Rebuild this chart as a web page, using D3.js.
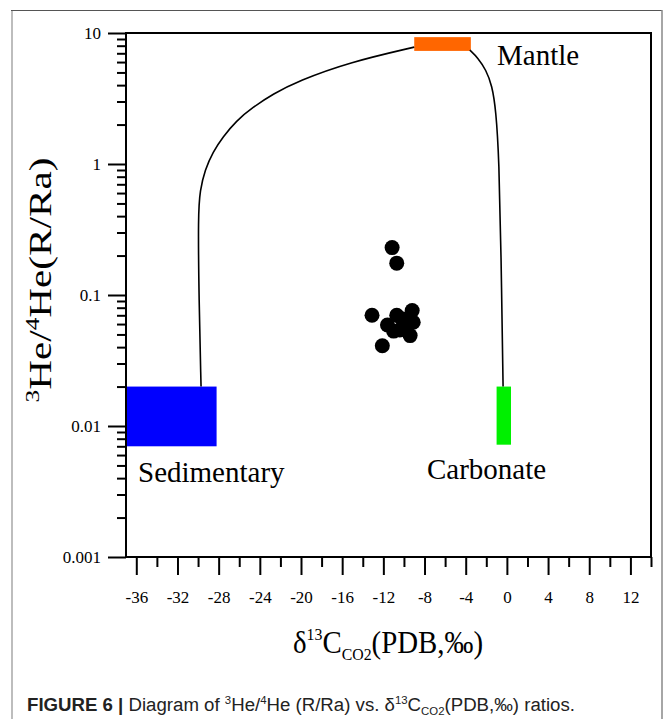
<!DOCTYPE html>
<html>
<head>
<meta charset="utf-8">
<script src="https://cdn.jsdelivr.net/npm/d3@7"></script>
<style>
    body { margin: 0; background: #fff; }
    svg { display: block; }
</style>
</head>
<body>
<div id="chart"></div>
<script>
// samples: δ13C CO2 vs 3He/4He (R/Ra)
const sampleX = [-11.15, -10.7, -13.1, -12.1, -11.6, -10.7, -9.2, -9.1, -9.4, -10.4, -11.0, -9.9, -10.2];
const sampleY = [0.23, 0.175, 0.07, 0.041, 0.059, 0.07, 0.076, 0.062, 0.049, 0.054, 0.053, 0.061, 0.066];

// end-member boxes [x0, x1, y0, y1]
const endNames = ["Sedimentary", "Carbonate", "Mantle"];
const endBoxes = [[-37, -28.2, 0.007, 0.02], [-1, 0.4, 0.0072, 0.02], [-9, -3.5, 7.3, 9.3]];
const endColors = ["#0000ff", "#00f000", "#ff6600"];

// mixing curves
const leftCurve = [[-29.71, 0.02], [-29.91, 0.092], [-30.0, 0.41], [-29.81, 0.63], [-29.33, 0.9], [-28.55, 1.24],
    [-27.58, 1.61], [-26.31, 2.13], [-24.66, 2.72], [-22.72, 3.42], [-20.29, 4.3], [-15.24, 6.0], [-9.0, 7.8]];
const rightCurve = [[-3.6, 7.4], [-2.8, 6.45], [-2.03, 5.22], [-1.45, 4.0], [-1.06, 2.58], [-0.76, 1.07],
    [-0.57, 0.22], [-0.37, 0.02]];

const xMajor = d3.range(-36, 13, 4);
const xMinor = d3.range(-34, 15, 4);
const yMajor = [0.001, 0.01, 0.1, 1, 10];
const yLabels = ["0.001", "0.01", "0.1", "1", "10"];

const W = 665, H = 719;
const serif = "'Liberation Serif', 'Times New Roman', serif";

const svg = d3.select("#chart").append("svg")
    .attr("width", W)
    .attr("height", H);

svg.append("rect").attr("width", W).attr("height", H).attr("fill", "#fff");

// outer figure frame
svg.append("line").attr("x1", 12).attr("x2", 12).attr("y1", 10).attr("y2", H)
    .attr("stroke", "#bdbdbd").attr("stroke-width", 2);
svg.append("line").attr("x1", 11).attr("x2", 662).attr("y1", 10.5).attr("y2", 10.5)
    .attr("stroke", "#555").attr("stroke-width", 1.2);
svg.append("line").attr("x1", 662).attr("x2", 662).attr("y1", 10).attr("y2", H)
    .attr("stroke", "#888").attr("stroke-width", 1.5);

const x = d3.scaleLinear().domain([-37, 14]).range([126, 651]);
const y = d3.scaleLog().domain([0.001, 10]).range([557, 33]);

// =============================
// AXES (minor and major in separate groups)
// =============================
const yMinor = [];
yMajor.slice(0, -1).forEach(d => {
    for (let k = 2; k <= 9; k++) yMinor.push(d * k);
});

const xb = `translate(0,${y.range()[0]})`;
const yl = `translate(${x.range()[0]},0)`;

svg.append("g").attr("transform", xb)
    .call(d3.axisBottom(x).tickValues(xMinor).tickSize(10).tickFormat(""));
const gx = svg.append("g").attr("transform", xb)
    .call(d3.axisBottom(x).tickValues(xMajor).tickSize(18).tickPadding(16).tickFormat(d => String(d)));

svg.append("g").attr("transform", yl)
    .call(d3.axisLeft(y).tickValues(yMinor).tickSize(9).tickFormat(""));
const gy = svg.append("g").attr("transform", yl)
    .call(d3.axisLeft(y).tickValues(yMajor).tickSize(18).tickPadding(7)
        .tickFormat((d, i) => yLabels[i]));

svg.selectAll(".domain").remove();
svg.selectAll(".tick line").attr("stroke", "#000").attr("stroke-width", 2);
svg.selectAll(".tick text")
    .style("font-family", serif)
    .style("font-size", "17px")
    .attr("fill", "#000");

// =============================
// END-MEMBER BOXES
// =============================
svg.append("g").selectAll("rect")
    .data(endBoxes)
    .join("rect")
    .attr("x", d => x(d[0]))
    .attr("width", d => x(d[1]) - x(d[0]))
    .attr("y", d => y(d[3]))
    .attr("height", d => y(d[2]) - y(d[3]))
    .attr("fill", (d, i) => endColors[i]);

// =============================
// MIXING CURVES
// =============================
const line = d3.line()
    .x(d => x(d[0]))
    .y(d => y(d[1]))
    .curve(d3.curveBasis);

svg.append("g").selectAll("path")
    .data([leftCurve, rightCurve])
    .join("path")
    .attr("d", line)
    .attr("fill", "none")
    .attr("stroke", "#000")
    .attr("stroke-width", 1.6);

// plot frame
svg.append("rect")
    .attr("x", x.range()[0]).attr("y", y.range()[1])
    .attr("width", x.range()[1] - x.range()[0])
    .attr("height", y.range()[0] - y.range()[1])
    .attr("fill", "none")
    .attr("stroke", "#000")
    .attr("stroke-width", 2);

// =============================
// SAMPLES
// =============================
svg.append("g").selectAll("circle")
    .data(sampleX.map((v, i) => [v, sampleY[i]]))
    .join("circle")
    .attr("cx", d => x(d[0]))
    .attr("cy", d => y(d[1]))
    .attr("r", 7.5)
    .attr("fill", "#000");

// =============================
// LABELS
// =============================
const labelPos = [[138, 482], [427, 479], [497, 65]];
svg.append("g").selectAll("text")
    .data(endNames)
    .join("text")
    .attr("x", (d, i) => labelPos[i][0])
    .attr("y", (d, i) => labelPos[i][1])
    .attr("font-family", serif)
    .attr("font-size", 29)
    .attr("fill", "#000")
    .text(d => d);

// y title
const yt = svg.append("text")
    .attr("transform", "translate(51,280) rotate(-90)")
    .attr("text-anchor", "middle")
    .attr("font-family", serif)
    .attr("font-size", 31)
    .attr("textLength", 245)
    .attr("lengthAdjust", "spacingAndGlyphs")
    .attr("fill", "#000");
yt.append("tspan").attr("font-size", 19).attr("dy", -12).text("3");
yt.append("tspan").attr("dy", 12).text("He/");
yt.append("tspan").attr("font-size", 19).attr("dy", -12).text("4");
yt.append("tspan").attr("dy", 12).text("He(R/Ra)");

// x title
const xt = svg.append("text")
    .attr("x", 293).attr("y", 653)
    .attr("font-family", serif)
    .attr("font-size", 31)
    .attr("textLength", 190)
    .attr("lengthAdjust", "spacingAndGlyphs")
    .attr("fill", "#000");
xt.append("tspan").text("δ");
xt.append("tspan").attr("font-size", 17).attr("dy", -13).text("13");
xt.append("tspan").attr("dy", 13).text("C");
xt.append("tspan").attr("font-size", 17).attr("dy", 7).text("CO2");
xt.append("tspan").attr("dy", -7).text("(PDB,‰)");

// caption
const cap = svg.append("text")
    .attr("x", 27).attr("y", 711)
    .attr("font-family", "'Liberation Sans Narrow', 'Liberation Sans', Arial, sans-serif")
    .attr("font-size", 18)
    .attr("fill", "#222")
    .attr("textLength", 548)
    .attr("lengthAdjust", "spacingAndGlyphs");
cap.append("tspan").attr("font-weight", "bold").text("FIGURE 6 | ");
cap.append("tspan").text("Diagram of ");
cap.append("tspan").attr("font-size", 11).attr("dy", -7).text("3");
cap.append("tspan").attr("dy", 7).text("He/");
cap.append("tspan").attr("font-size", 11).attr("dy", -7).text("4");
cap.append("tspan").attr("dy", 7).text("He (R/Ra) vs. δ");
cap.append("tspan").attr("font-size", 11).attr("dy", -7).text("13");
cap.append("tspan").attr("dy", 7).text("C");
cap.append("tspan").attr("font-size", 11).attr("dy", 4).text("CO2");
cap.append("tspan").attr("dy", -4).text("(PDB,‰) ratios.");
</script>
</body>
</html>
